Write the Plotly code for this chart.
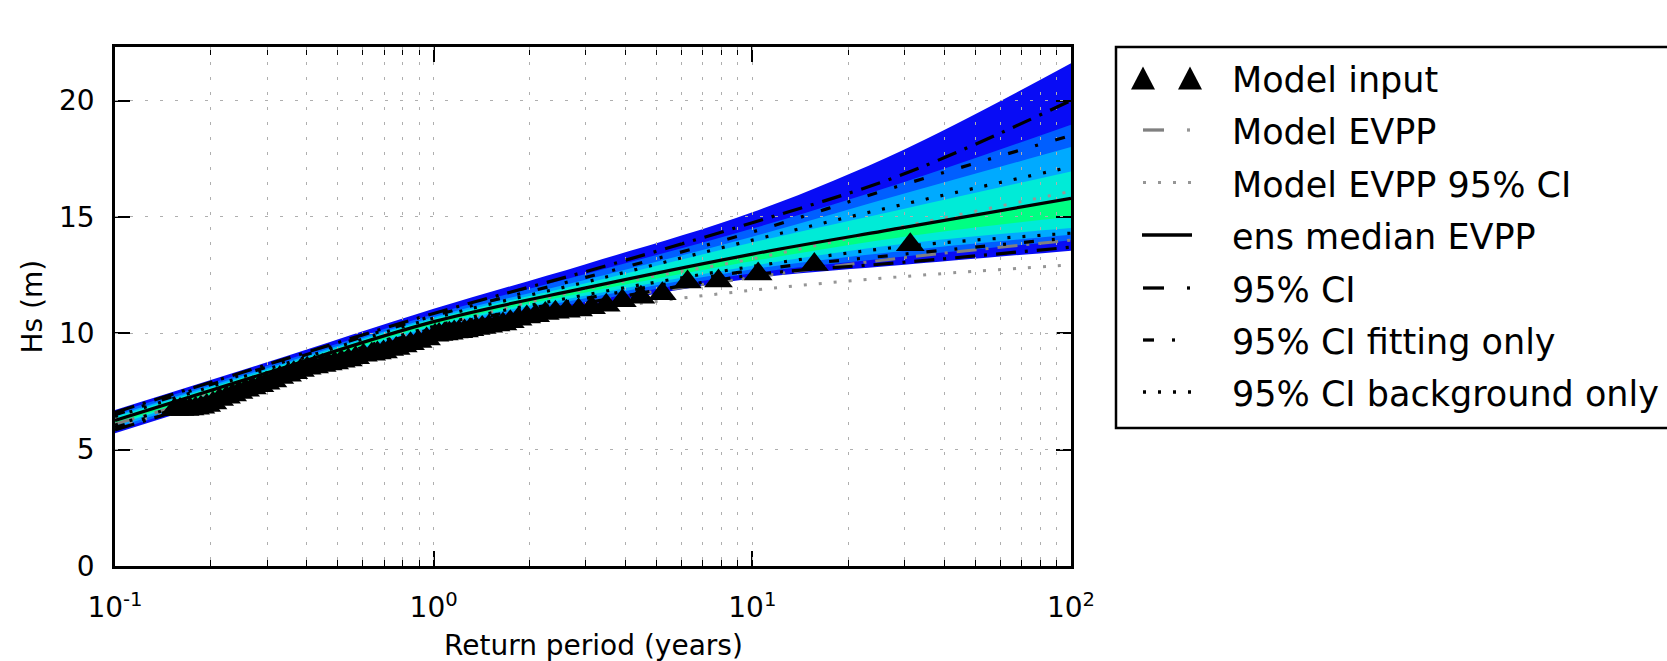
import plotly.graph_objects as go

W, H = 1667, 661

# ---------------- data ----------------
return_period = [0.1, 0.3, 1, 3, 10, 30, 100]

band1_lo = [5.7, 7.75, 10.0, 11.15, 12.35, 12.94, 13.55]
band1_hi = [6.7, 8.75, 11.05, 12.97, 15.2, 17.9, 21.6]
band2_lo = [5.82, 7.88, 10.12, 11.35, 12.58, 13.3, 14.0]
band2_hi = [6.58, 8.6, 10.82, 12.55, 14.5, 16.5, 18.96]
band3_lo = [5.95, 7.97, 10.2, 11.5, 12.75, 13.55, 14.23]
band3_hi = [6.46, 8.5, 10.7, 12.3, 14.15, 16.0, 18.0]
band4_lo = [6.05, 8.07, 10.3, 11.62, 12.9, 13.85, 14.52]
band4_hi = [6.4, 8.42, 10.62, 12.15, 13.9, 15.35, 16.95]
band5_lo = [6.12, 8.15, 10.38, 11.75, 13.1, 14.15, 15.02]
band5_hi = [6.25, 8.3, 10.48, 11.93, 13.38, 14.52, 15.75]

ens_median = [6.25, 8.3, 10.5, 11.95, 13.4, 14.55, 15.8]
ci95_hi = [6.6, 8.65, 10.85, 12.65, 14.75, 16.85, 20.0]
ci95_lo = [5.85, 7.85, 10.1, 11.3, 12.5, 13.05, 13.7]
fit_hi = [6.5, 8.55, 10.75, 12.4, 14.35, 16.4, 18.5]
fit_lo = [5.95, 7.95, 10.2, 11.5, 12.7, 13.4, 14.1]
bg_hi = [6.42, 8.45, 10.65, 12.2, 14.0, 15.55, 17.15]
bg_lo = [6.05, 8.05, 10.3, 11.65, 12.87, 13.73, 14.3]
model_evpp = [6.1, 7.95, 9.95, 11.3, 12.4, 13.25, 14.0]
model_ci_lo = [5.95, 7.8, 9.75, 10.95, 11.85, 12.44, 12.94]
model_ci_hi = [6.3, 8.15, 10.25, 11.9, 13.2, 14.6, 16.1]

model_T = [31.3, 15.65, 10.43, 7.83, 6.26, 5.22, 4.47, 3.91, 3.48, 3.13, 2.85, 2.61,
           2.41, 2.24, 2.09, 1.96, 1.84, 1.74, 1.65, 1.57, 1.49, 1.42, 1.36, 1.30,
           1.25, 1.20, 1.16, 1.12, 1.08, 1.04, 1.01, 0.95, 0.894, 0.846, 0.803, 0.763,
           0.728, 0.696, 0.666, 0.639, 0.602, 0.569, 0.540, 0.513, 0.489, 0.467, 0.447,
           0.423, 0.401, 0.382, 0.364, 0.348, 0.329, 0.313, 0.298, 0.285, 0.270, 0.257,
           0.245, 0.234, 0.224, 0.213, 0.203, 0.194, 0.186, 0.179, 0.172, 0.166, 0.160,
           0.154]
model_hs = [13.8, 12.95, 12.55, 12.25, 12.2, 11.7, 11.55, 11.4, 11.2, 11.1, 11.0, 10.95,
            10.9, 10.85, 10.75, 10.7, 10.6, 10.5, 10.4, 10.35, 10.3, 10.25, 10.2, 10.15,
            10.1, 10.07, 10.05, 10.0, 9.97, 9.95, 9.92, 9.75, 9.65, 9.55, 9.45, 9.35,
            9.3, 9.2, 9.15, 9.1, 9.05, 8.95, 8.85, 8.8, 8.72, 8.68, 8.62, 8.55, 8.5,
            8.4, 8.3, 8.2, 8.1, 7.95, 7.85, 7.75, 7.65, 7.55, 7.45, 7.35, 7.25, 7.15,
            7.0, 6.9, 6.82, 6.78, 6.75, 6.72, 6.72, 6.72]

x_major = [0.1, 1, 10, 100]
x_major_text = ["10<sup>-1</sup>", "10<sup>0</sup>", "10<sup>1</sup>", "10<sup>2</sup>"]
x_minor = [0.2, 0.3, 0.4, 0.5, 0.6, 0.7, 0.8, 0.9, 2, 3, 4, 5, 6, 7, 8, 9,
           20, 30, 40, 50, 60, 70, 80, 90]
y_major = [0, 5, 10, 15, 20]

legend_labels = ["Model input", "Model EVPP", "Model EVPP 95% CI", "ens median EVPP",
                 "95% CI", "95% CI fitting only", "95% CI background only"]

# ---------------- styling ----------------
FONT = "DejaVu Sans"
band_colors = ["rgb(8,12,245)", "rgb(0,95,255)", "rgb(0,170,255)",
               "rgb(0,235,215)", "rgb(0,255,130)"]
GREY = "rgb(128,128,128)"
LGREY = "rgb(150,150,150)"
LONGDASH = "20px,9px,3px,9px"
SHORTDASH = "10px,18px,3px,18px"
DOTS = "3px,12px"

# pixel layout of the axes box
X0, X1, Y0, Y1 = 115, 1071, 47, 566
xdom = [X0 / W, X1 / W]
ydom = [1 - Y1 / H, 1 - Y0 / H]
YR = [0, 22.3]


def px(x):
    return x / W


def py(y):
    return 1 - y / H


fig = go.Figure()

# bands (subplot 1, below gridlines)
bands = [(band1_lo, band1_hi), (band2_lo, band2_hi), (band3_lo, band3_hi),
         (band4_lo, band4_hi), (band5_lo, band5_hi)]
for (lo, hi), col in zip(bands, band_colors):
    fig.add_trace(go.Scatter(x=return_period, y=lo, mode="lines",
                             line=dict(width=0, color=col, shape="spline"),
                             showlegend=False, hoverinfo="skip", xaxis="x", yaxis="y"))
    fig.add_trace(go.Scatter(x=return_period, y=hi, mode="lines", fill="tonexty",
                             fillcolor=col, line=dict(width=0, color=col, shape="spline"),
                             showlegend=False, hoverinfo="skip", xaxis="x", yaxis="y"))


# lines (subplot 2, above gridlines)
def add_line(y, color, dash, width=3):
    fig.add_trace(go.Scatter(x=return_period, y=y, mode="lines",
                             line=dict(color=color, dash=dash, width=width, shape="spline"),
                             showlegend=False, xaxis="x2", yaxis="y2"))


add_line(model_ci_lo, LGREY, DOTS, 3)
add_line(model_ci_hi, LGREY, DOTS, 3)
add_line(model_evpp, GREY, LONGDASH, 3)
add_line(bg_lo, "black", DOTS, 3.2)
add_line(bg_hi, "black", DOTS, 3.2)
add_line(fit_lo, "black", SHORTDASH, 3.2)
add_line(fit_hi, "black", SHORTDASH, 3.2)
add_line(ci95_lo, "black", LONGDASH, 3.2)
add_line(ci95_hi, "black", LONGDASH, 3.2)
add_line(ens_median, "black", "solid", 3.2)

fig.add_trace(go.Scatter(x=model_T, y=model_hs, mode="markers",
                         marker=dict(symbol="triangle-up", size=25, color="black",
                                     line=dict(width=0)),
                         showlegend=False, xaxis="x2", yaxis="y2"))

tickfont = dict(family=FONT, size=28, color="black")

fig.update_layout(
    width=W, height=H,
    margin=dict(l=0, r=0, t=0, b=0),
    paper_bgcolor="white", plot_bgcolor="rgba(0,0,0,0)",
    showlegend=False,
    font=dict(family=FONT, color="black"),
    xaxis=dict(type="log", range=[-1, 2], domain=xdom, anchor="y",
               tickvals=x_major, ticktext=x_major_text, tickfont=tickfont,
               ticks="inside", ticklen=15, tickwidth=1.5, tickcolor="black",
               showline=True, linewidth=2.5, linecolor="black", mirror="ticks",
               showgrid=False, zeroline=False, ticklabelstandoff=15,
               minor=dict(tickvals=x_minor, ticks="inside", ticklen=8, tickwidth=1.2,
                          tickcolor="black", showgrid=False),
               automargin=False, layer="above traces"),
    yaxis=dict(range=YR, domain=ydom, anchor="x", tickvals=y_major, tickfont=tickfont,
               ticks="inside", ticklen=15, tickwidth=1.5, tickcolor="black",
               showline=True, linewidth=2.5, linecolor="black", mirror="ticks",
               showgrid=False, zeroline=False, ticklabelstandoff=12,
               automargin=False, layer="above traces"),
    xaxis2=dict(type="log", range=[-1, 2], domain=xdom, anchor="y2",
                tickvals=[1, 10], showticklabels=False, ticks="", showline=False,
                showgrid=True, gridcolor="rgb(175,175,175)", gridwidth=1, griddash=DOTS,
                zeroline=False,
                minor=dict(tickvals=x_minor, ticks="", showgrid=True,
                           gridcolor="rgb(175,175,175)", gridwidth=1, griddash=DOTS),
                automargin=False),
    yaxis2=dict(range=YR, domain=ydom, anchor="x2", tickvals=[5, 10, 15, 20],
                showticklabels=False, ticks="", showline=False, showgrid=True,
                gridcolor="rgb(175,175,175)", gridwidth=1, griddash=DOTS,
                zeroline=False, automargin=False),
)

annotations = [
    dict(text="Hs (m)", x=px(32), y=py((Y0 + Y1) / 2), xref="paper", yref="paper",
         textangle=-90, showarrow=False, font=dict(family=FONT, size=28, color="black"),
         xanchor="center", yanchor="middle"),
    dict(text="Return period (years)", x=px((X0 + X1) / 2), y=py(645), xref="paper",
         yref="paper", showarrow=False, font=dict(family=FONT, size=28, color="black"),
         xanchor="center", yanchor="middle"),
]

# ---------------- manual legend ----------------
rows = [78, 130, 182.5, 235, 288, 340, 392]
TX = 1230
for lab, ry in zip(legend_labels, rows):
    annotations.append(dict(text=lab, x=px(TX), y=py(ry + 2), xref="paper", yref="paper",
                            showarrow=False, xanchor="left", yanchor="middle",
                            font=dict(family=FONT, size=35, color="black")))

shapes = [dict(type="rect", xref="paper", yref="paper", x0=px(1116), x1=px(1700),
               y0=py(47), y1=py(428), line=dict(color="black", width=2.5),
               fillcolor="rgba(0,0,0,0)", layer="above")]


def tri(cx, cy, hw=12, hh=11.5):
    return dict(type="path", xref="paper", yref="paper", layer="above",
                path=f"M {px(cx-hw)},{py(cy+hh)} L {px(cx+hw)},{py(cy+hh)} L {px(cx)},{py(cy-hh)} Z",
                fillcolor="black", line=dict(width=0))


def seg(x0, x1, y, color, width, dash="solid"):
    return dict(type="line", xref="paper", yref="paper", layer="above",
                x0=px(x0), x1=px(x1), y0=py(y), y1=py(y),
                line=dict(color=color, width=width, dash=dash))


shapes += [tri(1143, rows[0]), tri(1190, rows[0])]
shapes += [seg(1143, 1164, rows[1], GREY, 3.3), seg(1187, 1190, rows[1], LGREY, 3.3)]
shapes += [seg(1143, 1192, rows[2], LGREY, 3, DOTS)]
shapes += [seg(1142, 1192, rows[3], "black", 3.5)]
shapes += [seg(1143, 1164, rows[4], "black", 3.3), seg(1187, 1190, rows[4], "black", 3.3)]
shapes += [seg(1143, 1154, rows[5], "black", 3.3), seg(1172, 1175, rows[5], "black", 3.3)]
shapes += [seg(1143, 1192, rows[6], "black", 3.3, DOTS)]

fig.update_layout(annotations=annotations, shapes=shapes)

fig.write_html("out.html", config={"displayModeBar": False},
               post_script="document.body.style.margin='0';document.body.style.overflow='hidden';")
